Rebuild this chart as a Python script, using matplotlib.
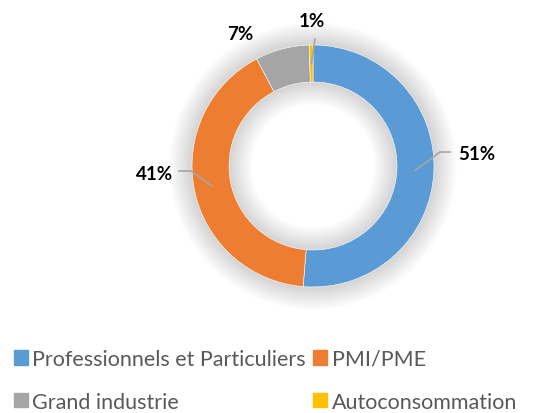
import numpy as np
import matplotlib.pyplot as plt
from matplotlib.patches import Wedge

categories = ['Professionnels et Particuliers', 'PMI/PME', 'Grand industrie', 'Autoconsommation']
shares = [51.3, 41.0, 7.2, 0.5]
labels = ['51%', '41%', '7%', '1%']
colors = ['#5B9BD5', '#ED7D31', '#A5A5A5', '#FFC000']

W, H = 537, 414
cx, cy = 313, H - 167
r_out, ring = 121, 37

plt.rcParams['font.family'] = ['Lato', 'DejaVu Sans']

fig = plt.figure(figsize=(W / 100, H / 100), dpi=100)
ax = fig.add_axes([0, 0, 1, 1])

# soft glow around the ring, outside and into the hole
for k in range(14):
    d = 2 + k * 1.6
    ax.add_patch(Wedge((cx, cy), r_out + d, 0, 360, width=ring + 2 * d,
                       facecolor='black', edgecolor='none', alpha=0.010, zorder=1))

wedges, _ = ax.pie(shares, colors=colors, startangle=90, counterclock=False,
                   center=(cx, cy), radius=r_out, frame=True,
                   wedgeprops=dict(width=ring, edgecolor='white', linewidth=0.4))
for w in wedges:
    w.set_zorder(3)
ax.set_xlim(0, W)
ax.set_ylim(0, H)
ax.set_aspect('equal')
ax.axis('off')

# labels with leader lines
r_mid = r_out - ring / 2
lab_style = dict(fontsize=13.5, fontweight='bold', color='black', zorder=5)
elbows = {
    0: [(440, 153), (450, 153)],
    1: [(191, 172), (179, 172)],
    3: [(315, 40)],
}
text_pos = {0: (458, 155, 'left'), 1: (173, 174, 'right'),
            2: (240, 34, 'center'), 3: (312, 21, 'center')}
for i, w in enumerate(wedges):
    ang = np.deg2rad((w.theta1 + w.theta2) / 2)
    px, py = cx + r_mid * np.cos(ang), cy + r_mid * np.sin(ang)
    if i in elbows:
        xs = [px] + [e[0] for e in elbows[i]]
        ys = [py] + [H - e[1] for e in elbows[i]]
        ax.plot(xs, ys, color='#A6A6A6', lw=1.2, zorder=4)
    tx, ty, ha = text_pos[i]
    ax.text(tx, H - ty, labels[i], ha=ha, va='center', **lab_style)

handles = [plt.Rectangle((0, 0), 1, 1, color=c) for c in colors]
order = [0, 2, 1, 3]
fig.legend([handles[i] for i in order], [categories[i] for i in order],
           ncol=2, loc='upper left', bbox_to_anchor=(14 / W, 1 - 350 / H),
           frameon=False, fontsize=15.5, labelcolor='#595959',
           handlelength=0.65, handleheight=0.65, handletextpad=0.2,
           columnspacing=0.35, labelspacing=1.05, borderaxespad=0, borderpad=0)

fig.savefig('out.png', dpi=100)
